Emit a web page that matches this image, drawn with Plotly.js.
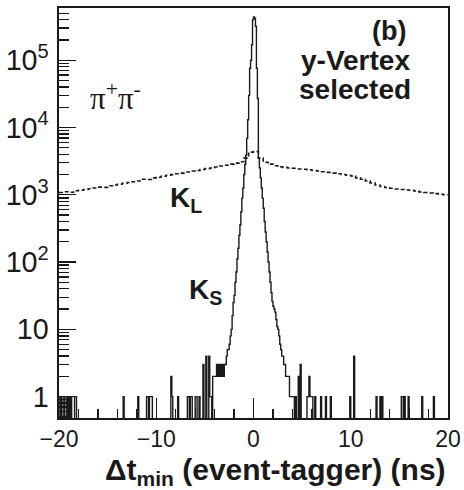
<!DOCTYPE html>
<html>
<head>
<meta charset="utf-8">
<script src="https://cdn.plot.ly/plotly-3.0.1.min.js"></script>
<style>
  html, body { margin: 0; padding: 0; background: #fff; }
  #chart { width: 464px; height: 490px; }
</style>
</head>
<body>
<div id="chart"></div>
<script>
// Δt_min (event - tagger) distribution, π+π- sample, y-vertex selection.
// Histogram bin width (ns) of the K_S distribution.
const ksBinWidth = 0.1;

// K_S core: counts per 0.1 ns bin, centres from -3.95 ns to +3.95 ns.
const ksCoreFirstCentre = -3.95;
const ksCoreCounts = [
  2, 2, 3, 2, 3, 2, 3, 2, 3, 2,
  3, 3, 4, 5, 5, 6, 8, 10, 16, 25,
  32, 50, 71, 112, 160, 250, 355, 560, 890, 1260,
  2000, 2820, 3890, 6900, 13000, 30000, 76000, 100000, 170000, 400000,
  440000, 420000, 320000, 76000, 27000, 3550, 2510, 1780, 1260, 890,
  630, 400, 280, 200, 141, 100, 71, 50, 35, 26,
  22, 20, 18, 14, 11, 10, 8, 6, 5, 4,
  4, 3, 3, 2, 2, 2, 2, 1, 1, 1
];

// K_S sparse tails: bin centres (ns) and counts.
const ksTailCentres = [
  -19.95, -19.75, -19.45, -19.15, -18.95, -18.75, -18.35, -18.25,
  -13.35, -11.85, -10.95, -10.85, -10.65, -10.55, -10.45,
  -8.45, -8.35, -7.75, -6.75, -6.65, -6.45, -6.35, -5.95, -5.85,
  -5.55, -5.15, -4.85, -4.55, -4.45, -4.35, -4.15, -4.05,
  4.05, 4.15, 4.35, 4.65, 4.85, 5.55, 5.65, 5.75, 5.85, 5.95, 6.05,
  6.35, 6.95, 7.45, 7.95, 9.95, 10.35, 12.65, 13.05, 13.25,
  15.25, 15.35, 15.55, 15.95, 17.35, 18.55
];
const ksTailCounts = [
  1, 1, 1, 1, 1, 1, 1, 1,
  1, 1, 1, 1, 1, 1, 1,
  2, 1, 1, 1, 1, 1, 1, 1, 1,
  1, 3, 4, 4, 1, 1, 2, 2,
  1, 1, 1, 2, 3, 1, 1, 2, 1, 1, 1,
  1, 1, 1, 1, 1, 4, 1, 1, 1,
  1, 1, 1, 1, 1, 1
];

// K_L: counts per 0.5 ns bin, centres from -19.75 ns to +19.75 ns.
const klBinWidth = 0.5;
const klFirstCentre = -19.75;
const klCounts = [
  1080, 1110, 1090, 1150, 1170, 1200, 1230, 1260, 1300, 1290,
  1360, 1400, 1430, 1480, 1520, 1560, 1600, 1700, 1690, 1780,
  1820, 1880, 1950, 1990, 2050, 2100, 2180, 2250, 2300, 2380,
  2450, 2500, 2580, 2680, 2750, 2850, 2950, 3100, 3500, 4300,
  4400, 3500, 3050, 2850, 2700, 2600, 2550, 2500, 2480, 2420,
  2400, 2350, 2300, 2260, 2200, 2150, 2100, 2050, 2000, 1950,
  1900, 1780, 1700, 1600, 1500, 1400, 1330, 1280, 1250, 1220,
  1200, 1180, 1170, 1140, 1100, 1080, 1060, 1040, 1020, 1000
];

// Axis labels
const xTickVals = [-20, -10, 0, 10, 20];
const xTitle = 'Δt<sub>min</sub> (event-tagger) (ns)';
// Minor tick mantissas for the logarithmic count axis
const yMinorMantissas = [2, 3, 4, 5, 6, 7, 8, 9];

// ---- build step outlines ----
const xMin = -20, xMax = 20;
const yLogRange = [-0.318, 5.776];
const emptyLevel = 0.05; // below the visible range so empty bins drop to the frame

function stepFromBins(centres, counts, width) {
  const xs = [], ys = [];
  for (let i = 0; i < centres.length; i++) {
    xs.push(centres[i] - width / 2);
    ys.push(counts[i] > 0 ? counts[i] : emptyLevel);
  }
  xs.push(centres[centres.length - 1] + width / 2);
  ys.push(ys[ys.length - 1]);
  return { x: xs, y: ys };
}

// K_S: merge core and tails onto the full 0.1 ns grid
const nKs = Math.round((xMax - xMin) / ksBinWidth);
const ksCentres = [], ksCounts = [];
for (let i = 0; i < nKs; i++) {
  ksCentres.push(+(xMin + (i + 0.5) * ksBinWidth).toFixed(2));
  ksCounts.push(0);
}
function ksIndex(c) { return Math.round((c - xMin) / ksBinWidth - 0.5); }
ksCoreCounts.forEach((v, i) => {
  ksCounts[ksIndex(ksCoreFirstCentre + i * ksBinWidth)] = v;
});
ksTailCentres.forEach((c, i) => { ksCounts[ksIndex(c)] = ksTailCounts[i]; });
const ksStep = stepFromBins(ksCentres, ksCounts, ksBinWidth);

const klCentres = klCounts.map((_, i) => klFirstCentre + i * klBinWidth);
const klStep = stepFromBins(klCentres, klCounts, klBinWidth);

// minor tick positions per decade covering the visible range
const yMinorVals = [];
for (let d = Math.floor(yLogRange[0]); d <= Math.ceil(yLogRange[1]); d++) {
  yMinorMantissas.forEach(m => {
    const v = m * Math.pow(10, d);
    const lv = Math.log10(v);
    if (lv > yLogRange[0] && lv < yLogRange[1]) yMinorVals.push(v);
  });
}

const ink = '#1a1a1a';

const traces = [
  {
    type: 'scatter', mode: 'lines', name: 'K_L',
    x: klStep.x, y: klStep.y,
    line: { shape: 'hv', color: ink, width: 1.6, dash: '4px,2.5px' },
    hoverinfo: 'skip'
  },
  {
    type: 'scatter', mode: 'lines', name: 'K_S',
    x: ksStep.x, y: ksStep.y,
    line: { shape: 'hv', color: ink, width: 1.4 },
    hoverinfo: 'skip'
  },
  // empty trace that binds the minor-tick axis
  { type: 'scatter', mode: 'lines', x: [], y: [], yaxis: 'y2', hoverinfo: 'skip' }
];

const sans = 'Liberation Sans, Arial, Helvetica, sans-serif';

const layout = {
  width: 464, height: 490,
  margin: { l: 59, r: 16, t: 8, b: 72 },
  paper_bgcolor: '#fff', plot_bgcolor: '#fff',
  showlegend: false,
  font: { family: sans, color: ink },
  xaxis: {
    range: [xMin, xMax],
    tickmode: 'array', tickvals: xTickVals,
    ticks: 'inside', ticklen: 20, tickwidth: 1.4, tickcolor: ink,
    minor: { ticks: 'inside', ticklen: 9, dtick: 2, tick0: 0, tickwidth: 1.3, tickcolor: ink, showgrid: false },
    showline: true, mirror: true, linecolor: ink, linewidth: 1.6,
    showgrid: false, zeroline: false,
    tickfont: { family: sans, size: 23, color: ink },
    ticklabelstandoff: 0
  },
  yaxis: {
    type: 'log',
    range: yLogRange,
    dtick: 1, exponentformat: 'power',
    ticks: 'inside', ticklen: 17, tickwidth: 1.4, tickcolor: ink,
    showline: true, mirror: true, linecolor: ink, linewidth: 1.6,
    showgrid: false, zeroline: false,
    tickfont: { family: sans, size: 23, color: ink },
    ticklabelstandoff: 4
  },
  // companion axis carrying the 2..9 minor ticks of each decade
  yaxis2: {
    type: 'log', overlaying: 'y', side: 'left',
    range: yLogRange,
    tickmode: 'array', tickvals: yMinorVals,
    ticks: 'inside', ticklen: 10, tickwidth: 1.3, tickcolor: ink,
    showticklabels: false, showline: false, showgrid: false, zeroline: false
  },
  annotations: [
    { xref: 'paper', yref: 'paper', x: 1.0, y: -0.13, xanchor: 'right', yanchor: 'middle',
      text: xTitle, showarrow: false,
      font: { family: sans, size: 30, color: ink, weight: 'bold' } },
    { xref: 'paper', yref: 'paper', x: 0.897, y: 0.944, xanchor: 'right', yanchor: 'middle',
      text: '(b)', showarrow: false,
      font: { family: sans, size: 27, color: ink, weight: 'bold' } },
    { xref: 'paper', yref: 'paper', x: 0.907, y: 0.873, xanchor: 'right', yanchor: 'middle',
      text: 'y-Vertex', showarrow: false,
      font: { family: sans, size: 28, color: ink, weight: 'bold' } },
    { xref: 'paper', yref: 'paper', x: 0.91, y: 0.801, xanchor: 'right', yanchor: 'middle',
      text: 'selected', showarrow: false,
      font: { family: sans, size: 28, color: ink, weight: 'bold' } },
    { xref: 'paper', yref: 'paper', x: 0.0746, y: 0.783, xanchor: 'left', yanchor: 'middle',
      text: 'π<sup>+</sup>π<sup>-</sup>', showarrow: false,
      font: { family: 'Liberation Serif, Times New Roman, serif', size: 31, color: ink } },
    { xref: 'paper', yref: 'paper', x: 0.28, y: 0.532, xanchor: 'left', yanchor: 'middle',
      text: 'K<sub>L</sub>', showarrow: false,
      font: { family: sans, size: 28, color: ink, weight: 'bold' } },
    { xref: 'paper', yref: 'paper', x: 0.329, y: 0.308, xanchor: 'left', yanchor: 'middle',
      text: 'K<sub>S</sub>', showarrow: false,
      font: { family: sans, size: 28, color: ink, weight: 'bold' } }
  ]
};

Plotly.newPlot('chart', traces, layout, { staticPlot: true, displayModeBar: false });
</script>
</body>
</html>
